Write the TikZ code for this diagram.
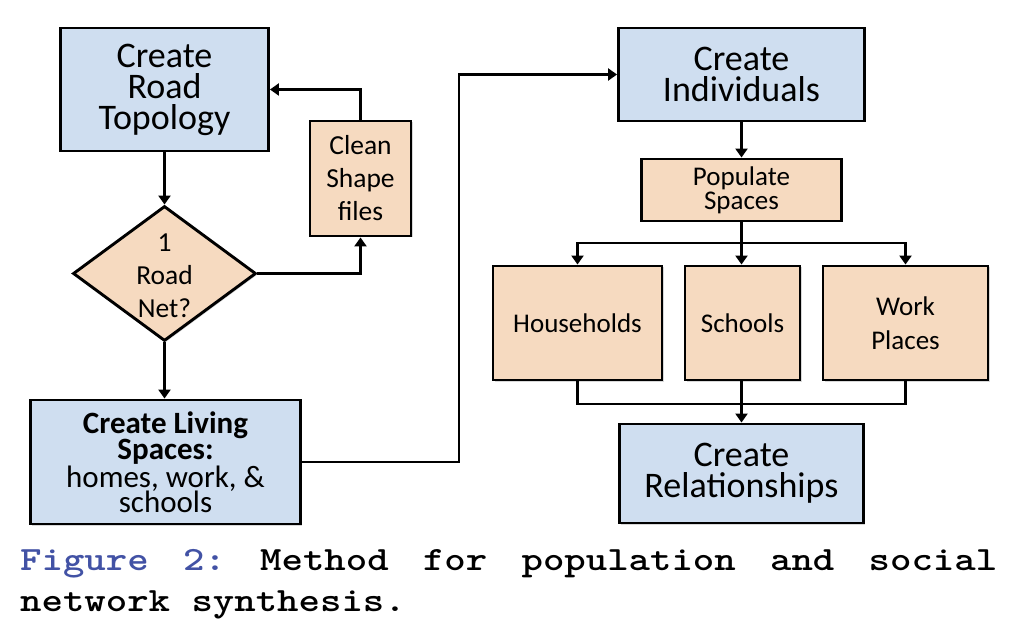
\documentclass[tikz,border=0pt]{standalone}
\usepackage{fontspec}
\setmainfont{Carlito}
\newfontfamily\capfont{lmmonolt10-bold.otf}[FakeStretch=1.2]
\usetikzlibrary{arrows.meta,shapes.geometric,shadows}
\definecolor{boxblue}{RGB}{207,222,240}
\definecolor{boxpeach}{RGB}{246,218,192}
\definecolor{capblue}{RGB}{66,82,165}
\begin{document}
\begin{tikzpicture}[x=1pt,y=-1pt,
  base/.style={draw=black, line width=2.9pt, inner sep=0pt, align=center,
    drop shadow={shadow xshift=1.5pt,shadow yshift=-1.5pt,opacity=0.3}},
  bluebox/.style={base, rectangle, fill=boxblue, font=\fontsize{36}{31}\selectfont},
  peachbox/.style={base, rectangle, fill=boxpeach, font=\fontsize{27}{34}\selectfont},
  link/.style={draw=black, line width=2.6pt},
  arr/.style={link, -{Triangle[length=9pt,width=12pt]}},
]
\useasboundingbox (0,0) rectangle (1012,628);
\fill[white] (0,0) rectangle (1012,628);

\node[bluebox, minimum width=208pt, minimum height=123pt] (topo) at (164.5,89.5) {Create\\Road\\Topology};
\node[peachbox, font=\fontsize{27.5}{33}\selectfont, minimum width=101pt, minimum height=115pt] (clean) at (360.5,178.5) {Clean\\Shape\\files};
\node[base, diamond, fill=boxpeach, minimum width=183pt, minimum height=135pt] (dia) at (164.5,273.5) {};
\node[font=\fontsize{27.5}{33}\selectfont, align=center, inner sep=0pt] (diat) at (164.5,276) {1\\Road\\Net?};
\node[bluebox, font=\fontsize{31}{25.5}\selectfont, minimum width=270pt, minimum height=124pt] (living) at (165.5,462) {\textbf{Create Living}\\\textbf{Spaces:}\\homes, work, \&\\schools};

\node[bluebox, minimum width=246pt, minimum height=93pt] (indiv) at (741.5,74.5) {Create\\Individuals};
\node[peachbox, font=\fontsize{27}{24}\selectfont, minimum width=200pt, minimum height=62pt] (pop) at (741.5,190) {Populate\\Spaces};
\node[peachbox, minimum width=169pt, minimum height=114pt] (house) at (577.5,323) {Households};
\node[peachbox, minimum width=115pt, minimum height=114pt] (school) at (742.5,323) {Schools};
\node[peachbox, minimum width=165pt, minimum height=114pt] (work) at (905.5,323) {Work\\Places};
\node[bluebox, minimum width=244pt, minimum height=99pt] (rel) at (741.5,473.5) {Create\\Relationships};

\coordinate (jog) at (459,462);
\coordinate (split) at (741.5,243);
\coordinate (merge) at (741.5,404);

\draw[arr] (topo.south) -- (dia.north);
\draw[arr] (dia.east) -| (clean.south);
\draw[arr] (clean.north) |- (topo.east);
\draw[arr] (dia.south) -- (dia.south |- living.north);
\draw[arr] (living.east) -- (jog) |- (indiv.west);
\draw[arr] (indiv.south) -- (pop.north);
\draw[link] (pop.south) -- (split);
\draw[arr] (split) -| (house.north);
\draw[arr] (split) -| (work.north);
\draw[arr] (split) -- (split |- school.north);
\draw[link] (house.south) |- (merge);
\draw[link] (work.south) |- (merge);
\draw[arr] (merge |- school.south) -- (rel.north);

\node[anchor=north west, inner sep=0pt, text width=977pt, align=justify,
  font=\capfont\fontsize{34}{41}\selectfont] (cap) at (20,549.5)
  {\frenchspacing\hyphenpenalty=10000\spaceskip=21.42pt plus 40pt\relax
   \textcolor{capblue}{Figure 2:} Method for population and social network synthesis.};
\end{tikzpicture}
\end{document}
